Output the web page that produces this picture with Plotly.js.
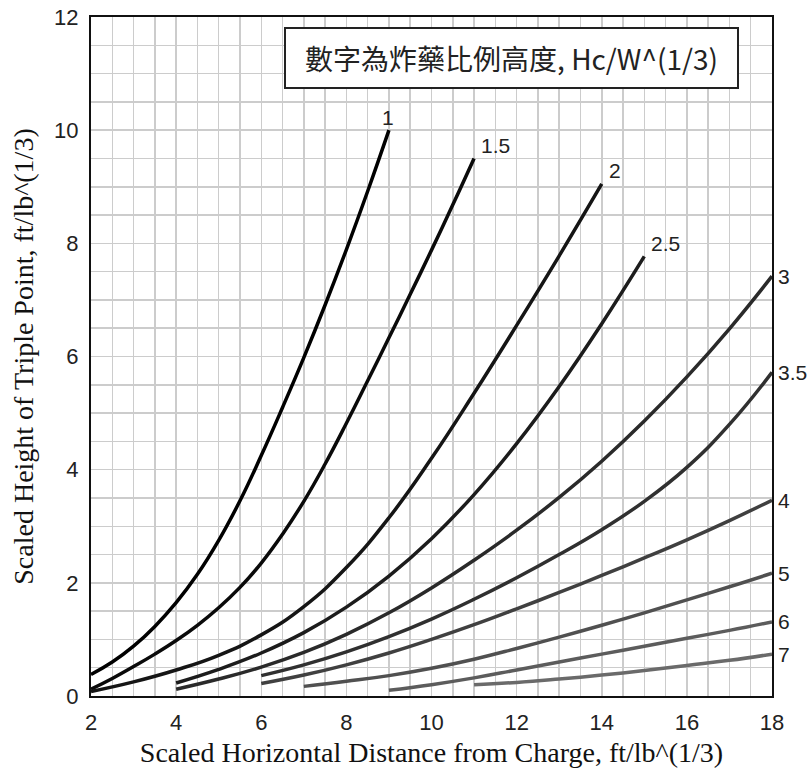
<!DOCTYPE html>
<html>
<head>
<meta charset="utf-8">
<script src="https://cdn.plot.ly/plotly-3.0.1.min.js"></script>
<style>html,body{margin:0;padding:0;background:#fff;}#chart{width:812px;height:775px;}</style>
</head>
<body>
<div id="chart"></div>
<script>
// Curve labels (scaled charge height Hc/W^(1/3))
const curveNames = ["1", "1.5", "2", "2.5", "3", "3.5", "4", "5", "6", "7"];

// Scaled horizontal distance (x) and scaled triple-point height (y) for each curve
const x1   = [2, 2.5, 3, 3.5, 4, 4.5, 5, 5.5, 6, 6.5, 7, 7.5, 8, 8.5, 9];
const y1   = [0.38, 0.60, 0.88, 1.23, 1.65, 2.15, 2.75, 3.45, 4.25, 5.10, 5.98, 6.91, 7.89, 8.92, 10.0];

const x15  = [2, 2.5, 3, 3.5, 4, 4.5, 5, 5.5, 6, 6.5, 7, 7.5, 8, 8.5, 9, 9.5, 10, 10.5, 11];
const y15  = [0.12, 0.31, 0.52, 0.74, 0.98, 1.25, 1.56, 1.92, 2.35, 2.86, 3.44, 4.10, 4.82, 5.57, 6.33, 7.10, 7.88, 8.68, 9.5];

const x2   = [2, 3, 4, 5, 6, 7, 8, 9, 10, 11, 12, 13, 14];
const y2   = [0.08, 0.25, 0.46, 0.72, 1.08, 1.58, 2.27, 3.15, 4.2, 5.35, 6.55, 7.78, 9.05];

const x25  = [4, 5, 6, 7, 8, 9, 10, 11, 12, 13, 14, 15];
const y25  = [0.23, 0.47, 0.76, 1.12, 1.57, 2.12, 2.78, 3.56, 4.46, 5.47, 6.58, 7.77];

const x3   = [4, 5, 6, 7, 8, 9, 10, 11, 12, 13, 14, 15, 16, 17, 18];
const y3   = [0.12, 0.30, 0.51, 0.77, 1.09, 1.47, 1.91, 2.40, 2.93, 3.51, 4.15, 4.86, 5.64, 6.49, 7.42];

const x35  = [6, 7, 8, 9, 10, 11, 12, 13, 14, 15, 16, 17, 18];
const y35  = [0.36, 0.55, 0.78, 1.05, 1.36, 1.71, 2.09, 2.50, 2.94, 3.44, 4.04, 4.80, 5.72];

const x4   = [6, 7, 8, 9, 10, 11, 12, 13, 14, 15, 16, 17, 18];
const y4   = [0.22, 0.37, 0.55, 0.76, 1.0, 1.26, 1.54, 1.83, 2.13, 2.44, 2.76, 3.10, 3.46];

const x5   = [7, 8, 9, 10, 11, 12, 13, 14, 15, 16, 17, 18];
const y5   = [0.17, 0.26, 0.36, 0.49, 0.65, 0.84, 1.04, 1.25, 1.47, 1.70, 1.93, 2.17];

const x6   = [9, 10, 11, 12, 13, 14, 15, 16, 17, 18];
const y6   = [0.1, 0.2, 0.32, 0.46, 0.6, 0.74, 0.88, 1.02, 1.16, 1.31];

const x7   = [11, 12, 13, 14, 15, 16, 17, 18];
const y7   = [0.2, 0.24, 0.3, 0.37, 0.45, 0.54, 0.63, 0.74];

const xTicks = [2, 4, 6, 8, 10, 12, 14, 16, 18];
const yTicks = [0, 2, 4, 6, 8, 10, 12];

const boxText = "數字為炸藥比例高度, Hc/W^(1/3)";
const xTitle = "Scaled Horizontal Distance from Charge, ft/lb^(1/3)";
const yTitle = "Scaled Height of Triple Point, ft/lb^(1/3)";

const seriesX = [x1, x15, x2, x25, x3, x35, x4, x5, x6, x7];
const seriesY = [y1, y15, y2, y25, y3, y35, y4, y5, y6, y7];
const colors = ["#000000", "#0a0a0a", "#151515", "#1c1c1c", "#2a2a2a", "#303030", "#404040", "#505050", "#5c5c5c", "#6a6a6a"];

const traces = seriesX.map((xs, i) => ({
  x: xs, y: seriesY[i], type: "scatter", mode: "lines", name: curveNames[i],
  line: {color: colors[i], width: 3.5, shape: "spline", smoothing: 1.3},
  hoverinfo: "skip", showlegend: false
}));

const annotations = [];
seriesX.forEach((xs, i) => {
  const xe = xs[xs.length - 1], ye = seriesY[i][seriesY[i].length - 1];
  const top = i < 4;
  annotations.push({
    x: xe, y: ye, xref: "x", yref: "y", text: curveNames[i], showarrow: false,
    font: {family: "Liberation Sans, Arial, sans-serif", size: 21, color: "#222"},
    xanchor: top && i === 0 ? "center" : "left",
    yanchor: "middle",
    xshift: top ? (i === 0 ? -1 : 5) : 4,
    yshift: top ? 13 : 0
  });
});
annotations.push({
  x: 0.6175, y: 0.9396, xref: "paper", yref: "paper", xanchor: "center", yanchor: "middle",
  text: boxText, showarrow: false, width: 451, height: 58, align: "center", valign: "middle",
  bgcolor: "#ffffff", bordercolor: "#222", borderwidth: 2, borderpad: 0,
  font: {family: "Noto Sans CJK TC, sans-serif", size: 28, color: "#222"}
});

const gridColor = "#cccccc";
const layout = {
  width: 812, height: 775,
  margin: {l: 91, r: 40, t: 17, b: 79},
  paper_bgcolor: "#ffffff", plot_bgcolor: "#ffffff",
  xaxis: {
    range: [2, 18], tickvals: xTicks, ticktext: xTicks.map(String),
    showgrid: true, gridcolor: gridColor, gridwidth: 1.5,
    minor: {dtick: 0.5, showgrid: true, gridcolor: gridColor, gridwidth: 1.5},
    showline: true, mirror: true, linecolor: "#111", linewidth: 2,
    ticks: "", zeroline: false, ticklabelstandoff: 6,
    tickfont: {family: "Liberation Sans, Arial, sans-serif", size: 22, color: "#222"},
    title: {text: xTitle, standoff: 8, font: {family: "Liberation Serif, Times New Roman, serif", size: 28, color: "#111"}}
  },
  yaxis: {
    range: [0, 12], tickvals: yTicks, ticktext: yTicks.map(String),
    showgrid: true, gridcolor: gridColor, gridwidth: 1.5,
    minor: {dtick: 0.5, showgrid: true, gridcolor: gridColor, gridwidth: 1.5},
    showline: true, mirror: true, linecolor: "#111", linewidth: 2,
    ticks: "", zeroline: false, ticklabelstandoff: 6,
    tickfont: {family: "Liberation Sans, Arial, sans-serif", size: 22, color: "#222"},
    title: {text: yTitle, standoff: 12, font: {family: "Liberation Serif, Times New Roman, serif", size: 28, color: "#111"}}
  },
  annotations: annotations
};

Plotly.newPlot("chart", traces, layout, {displayModeBar: false, staticPlot: true});
</script>
</body>
</html>
